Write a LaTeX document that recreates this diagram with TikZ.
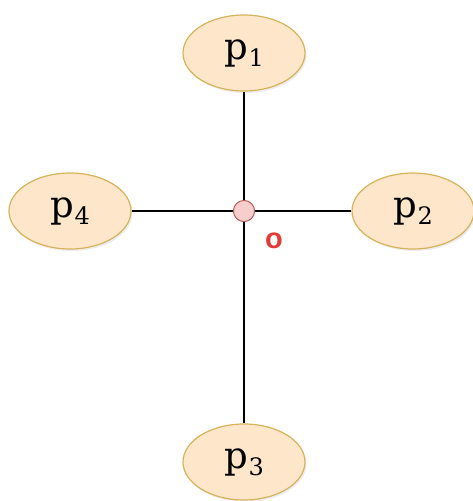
\documentclass[tikz,border=0pt]{standalone}
\usepackage{fontspec}
\newfontfamily\labfont{Liberation Sans}
\newfontfamily\pfont{DejaVu Serif}
\usetikzlibrary{shapes.geometric,shadows}
\definecolor{peachfill}{HTML}{FDE6CA}
\definecolor{peachline}{HTML}{D6B35A}
\definecolor{ofill}{HTML}{F8CECC}
\definecolor{oline}{HTML}{B85450}
\definecolor{ored}{HTML}{E53935}
\newcommand{\plab}[1]{\pfont\fontsize{37}{37}\selectfont p\hspace{1pt}\raisebox{-7pt}{\fontsize{24}{24}\selectfont #1}}
\tikzset{
  pnode/.style={ellipse, draw=peachline, fill=peachfill, line width=1.2pt,
    minimum width=122pt, minimum height=76pt, inner sep=0pt,
    drop shadow={opacity=0.15, shadow xshift=1.5pt, shadow yshift=-2pt}},
  onode/.style={circle, draw=oline, fill=ofill, line width=0.8pt, minimum size=21pt, inner sep=0pt},
  link/.style={draw=black, line width=2.4pt}
}
\begin{document}
\begin{tikzpicture}[x=1pt,y=-1pt]
\useasboundingbox (0,0) rectangle (472,501);
\node[onode] (o) at (244,211) {};
\node[pnode] (p1) at (244,53) {\plab{1}};
\node[pnode] (p2) at (413,211) {\plab{2}};
\node[pnode] (p3) at (244,462) {\plab{3}};
\node[pnode] (p4) at (70,211) {\plab{4}};
\draw[link] (p1) -- (o);
\draw[link] (o) -- (p3);
\draw[link] (p4) -- (o);
\draw[link] (o) -- (p2);
\node[onode] at (o) {};
\node[text=ored, font={\labfont\bfseries\fontsize{29}{29}\selectfont}] (olab) at (274,241) {o};
\end{tikzpicture}
\end{document}
